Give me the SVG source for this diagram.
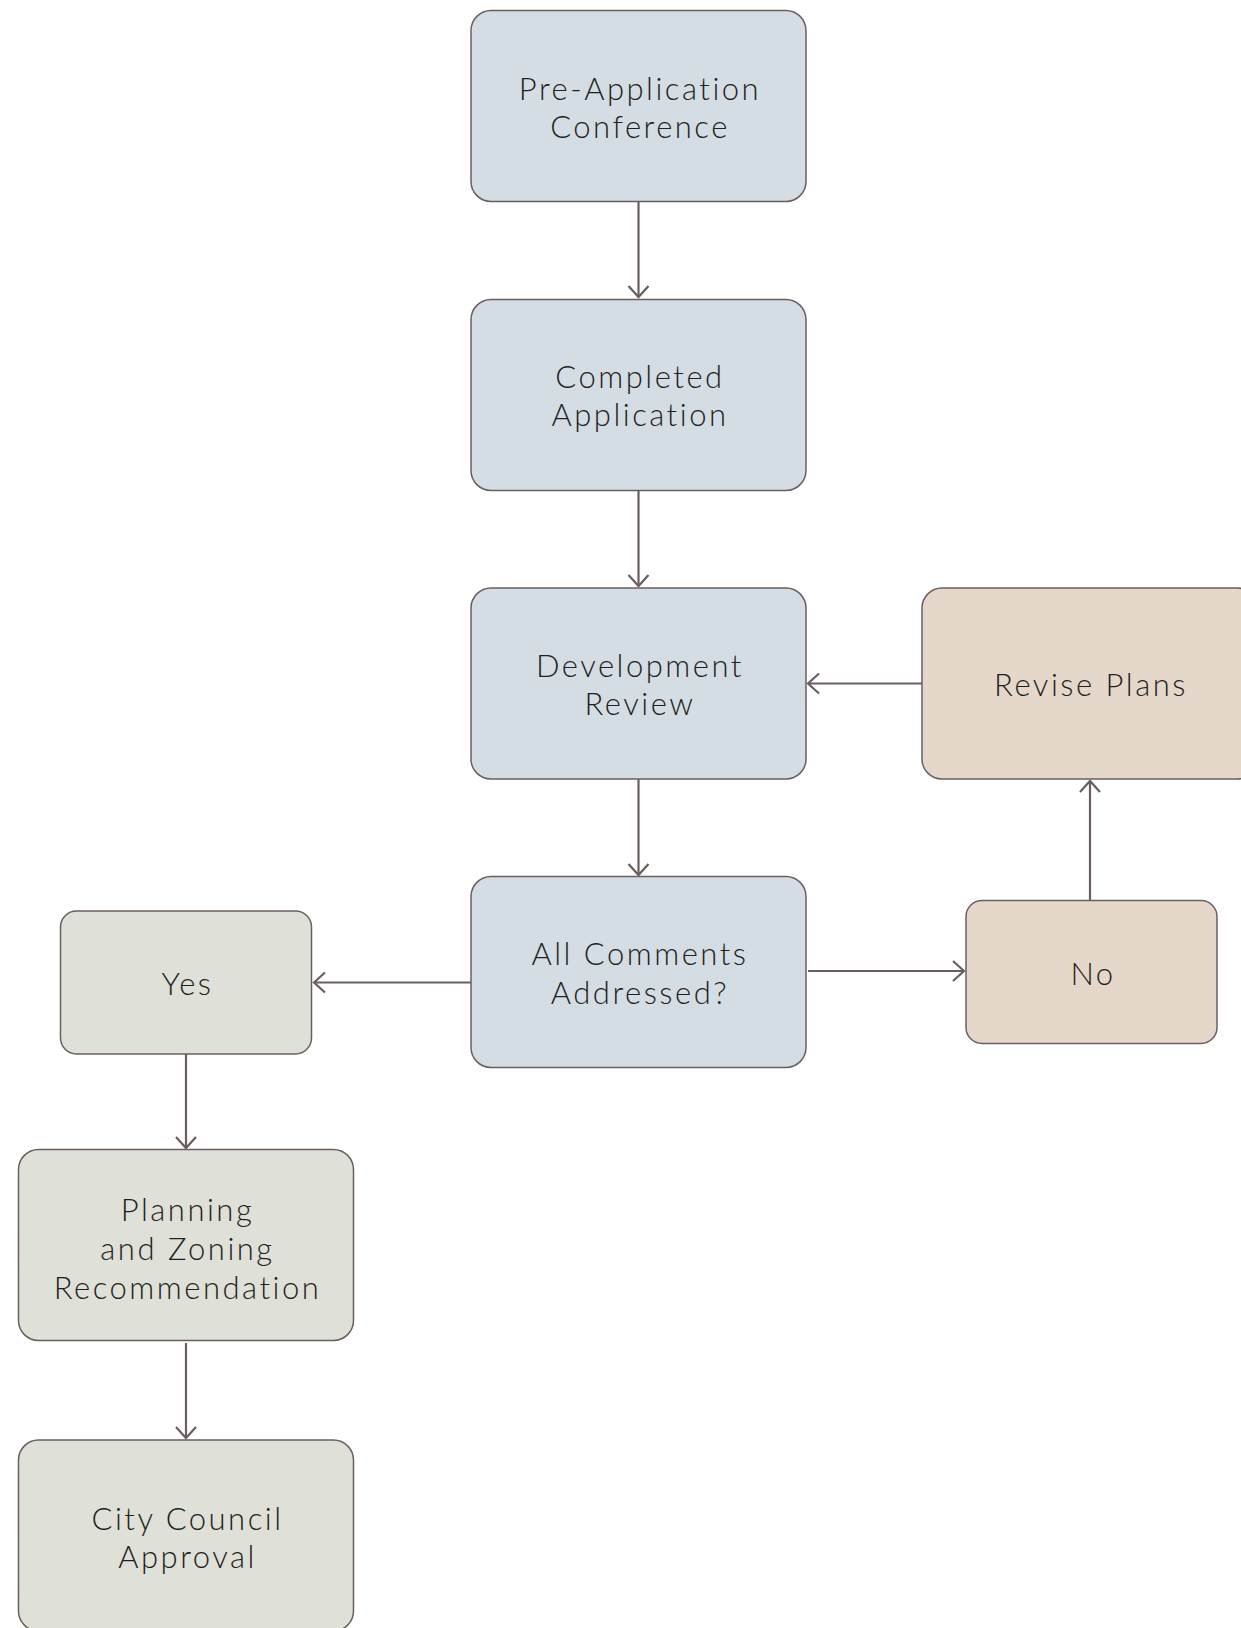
<svg xmlns="http://www.w3.org/2000/svg" width="1241" height="1628" viewBox="0 0 1241 1628">
<style>
.box{stroke:#6b5e5f;stroke-width:1.5}
.blue{fill:#d3dde3}
.tan{fill:#e5d8cb}
.grey{fill:#dfe0d8}
.t{font-family:Lato,"Liberation Sans",sans-serif;font-weight:300;font-size:31px;fill:#231f20;text-anchor:middle;letter-spacing:2.5px}
.c{stroke:#6b5e5f;stroke-width:2.2;fill:none}
</style>
<defs>
<marker id="ah" markerUnits="userSpaceOnUse" viewBox="-14 -12 16 24" markerWidth="16" markerHeight="24" refX="0" refY="0" orient="auto">
<path d="M-11,-10 L0,0 L-11,10" fill="none" stroke="#6b5e5f" stroke-width="2.2"/>
</marker>
</defs>
<rect width="1241" height="1628" fill="#ffffff"/>
<g id="connectors">
<line class="c" x1="638.5" y1="202" x2="638.5" y2="297" marker-end="url(#ah)"/>
<line class="c" x1="638.5" y1="491" x2="638.5" y2="586" marker-end="url(#ah)"/>
<line class="c" x1="638.5" y1="779" x2="638.5" y2="875" marker-end="url(#ah)"/>
<line class="c" x1="922" y1="683.5" x2="808" y2="683.5" marker-end="url(#ah)"/>
<line class="c" x1="808" y1="971" x2="964" y2="971" marker-end="url(#ah)"/>
<line class="c" x1="1090" y1="900" x2="1090" y2="781" marker-end="url(#ah)"/>
<line class="c" x1="471" y1="982.5" x2="314" y2="982.5" marker-end="url(#ah)"/>
<line class="c" x1="186" y1="1054" x2="186" y2="1148" marker-end="url(#ah)"/>
<line class="c" x1="186" y1="1343" x2="186" y2="1438" marker-end="url(#ah)"/>
</g>
<g id="pre-application">
<rect class="box blue" x="471" y="10.5" width="335" height="191" rx="20"/>
<text class="t" x="640" y="100">Pre-Application</text>
<text class="t" x="640" y="138">Conference</text>
</g>
<g id="completed-application">
<rect class="box blue" x="471" y="299.5" width="335" height="191" rx="20"/>
<text class="t" x="640" y="388">Completed</text>
<text class="t" x="640" y="426">Application</text>
</g>
<g id="development-review">
<rect class="box blue" x="471" y="588" width="335" height="191" rx="20"/>
<text class="t" x="640" y="677">Development</text>
<text class="t" x="640" y="715">Review</text>
</g>
<g id="all-comments">
<rect class="box blue" x="471" y="876.5" width="335" height="191" rx="20"/>
<text class="t" x="640" y="965">All Comments</text>
<text class="t" x="640" y="1004">Addressed?</text>
</g>
<g id="revise-plans">
<rect class="box tan" x="922" y="588" width="335" height="191" rx="20"/>
<text class="t" x="1091" y="696">Revise Plans</text>
</g>
<g id="no">
<rect class="box tan" x="966" y="900.5" width="251" height="143" rx="16"/>
<text class="t" x="1093" y="985">No</text>
</g>
<g id="yes">
<rect class="box grey" x="60.5" y="911" width="251" height="143" rx="16"/>
<text class="t" x="187.5" y="995">Yes</text>
</g>
<g id="planning-zoning">
<rect class="box grey" x="18.5" y="1149.5" width="335" height="191" rx="20"/>
<text class="t" x="187.5" y="1221">Planning</text>
<text class="t" x="187.5" y="1260">and Zoning</text>
<text class="t" x="187.5" y="1299">Recommendation</text>
</g>
<g id="city-council">
<rect class="box grey" x="18.5" y="1440" width="335" height="191" rx="20"/>
<text class="t" x="187.5" y="1530">City Council</text>
<text class="t" x="187.5" y="1568">Approval</text>
</g>
</svg>
